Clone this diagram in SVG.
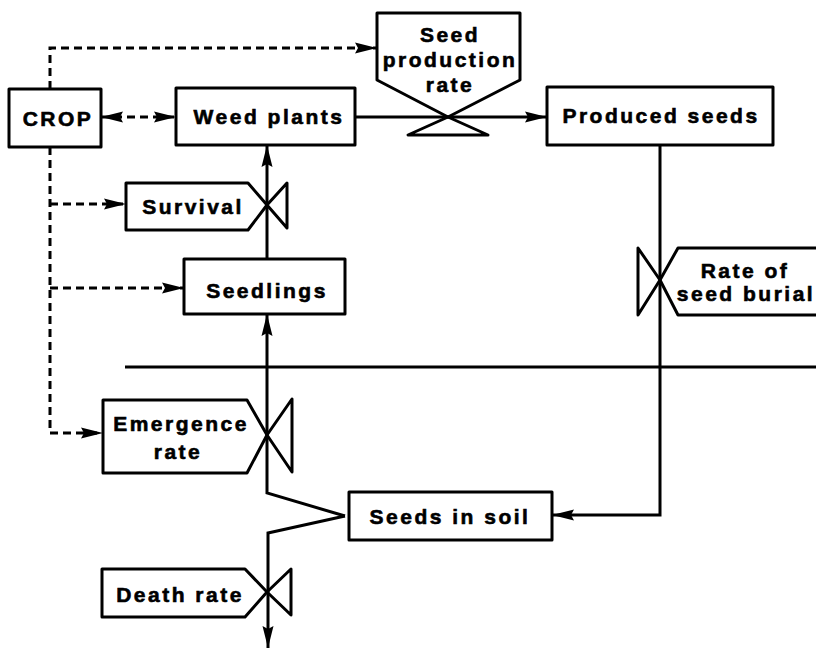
<svg xmlns="http://www.w3.org/2000/svg" width="816" height="648" viewBox="0 0 816 648">
<style>
.b{fill:#fff;stroke:#000;stroke-width:3;stroke-linejoin:round}
.v{fill:none;stroke:#000;stroke-width:3;stroke-linejoin:round}
.t{font-family:"Liberation Sans",Arial,sans-serif;font-weight:bold;font-size:21px;letter-spacing:2.5px;text-anchor:middle;fill:#000;stroke:#000;stroke-width:0.6}
.c{fill:none;stroke:#000;stroke-width:3}
.d{fill:none;stroke:#000;stroke-width:3;stroke-dasharray:8 5}
</style>
<defs>
<marker id="ah" viewBox="0 0 22 12" refX="22" refY="6" markerWidth="22" markerHeight="12" markerUnits="userSpaceOnUse" orient="auto-start-reverse">
<path d="M0,0.5 L22,6 L0,11.5 L3,6 Z" fill="#000"/>
</marker>
</defs>
<rect width="816" height="648" fill="#fff"/>
<g id="connectors">
<path class="d" d="M50,89 V48 H377" marker-end="url(#ah)"/>
<path class="d" d="M50,147 V433 H103" marker-end="url(#ah)"/>
<path class="d" d="M50,204 H126" marker-end="url(#ah)"/>
<path class="d" d="M50,288 H184" marker-end="url(#ah)"/>
<path class="d" d="M101,117 H176" marker-start="url(#ah)" marker-end="url(#ah)"/>
<path class="c" d="M355,117 H547" marker-end="url(#ah)"/>
<path class="c" d="M660,145 V515 H552" marker-end="url(#ah)"/>
<path class="c" d="M267,259 V145" marker-end="url(#ah)"/>
<path class="c" d="M345,516 L267,493 V314" marker-end="url(#ah)"/>
<path class="c" d="M345,516 L268,533 V648" marker-end="url(#ah)"/>
<path class="c" d="M125,367 H816"/>
</g>
<g id="crop">
<rect class="b" x="9" y="89" width="92" height="58"/>
<text class="t" x="58" y="126">CROP</text>
</g>
<g id="weed-plants">
<rect class="b" x="176" y="88" width="179" height="57"/>
<text class="t" x="269" y="124">Weed plants</text>
</g>
<g id="seed-production-rate">
<path class="v" d="M377,13 H520 V80 L448,117 L377,80 Z"/>
<path class="v" d="M448,117 L408,135 H488 Z"/>
<text class="t" x="450" y="42">Seed</text>
<text class="t" x="450" y="67">production</text>
<text class="t" x="450" y="92">rate</text>
</g>
<g id="produced-seeds">
<rect class="b" x="547" y="87" width="226" height="58"/>
<text class="t" x="661" y="123">Produced seeds</text>
</g>
<g id="survival">
<path class="v" d="M126,183 H248 L267,205 L248,230 H126 Z"/>
<path class="v" d="M267,205 L287,183 V228 Z"/>
<text class="t" x="193" y="214">Survival</text>
</g>
<g id="seedlings">
<rect class="b" x="184" y="259" width="161" height="55"/>
<text class="t" x="267" y="298">Seedlings</text>
</g>
<g id="rate-of-seed-burial">
<path class="v" d="M660,280 L678,248 H820 V315 H678 Z"/>
<path class="v" d="M660,280 L638,248 V315 Z"/>
<text class="t" x="745" y="278">Rate of</text>
<text class="t" x="746" y="301">seed burial</text>
</g>
<g id="emergence-rate">
<path class="v" d="M103,400 H247 L267,435 L247,473 H103 Z"/>
<path class="v" d="M267,435 L292,399 V472 Z"/>
<text class="t" x="181" y="431">Emergence</text>
<text class="t" x="178" y="459">rate</text>
</g>
<g id="seeds-in-soil">
<rect class="b" x="349" y="492" width="203" height="48"/>
<text class="t" x="450" y="524">Seeds in soil</text>
</g>
<g id="death-rate">
<path class="v" d="M102,569 H245 L267,592 L245,617 H102 Z"/>
<path class="v" d="M267,592 L291,569 V615 Z"/>
<text class="t" x="180" y="602">Death rate</text>
</g>
</svg>
